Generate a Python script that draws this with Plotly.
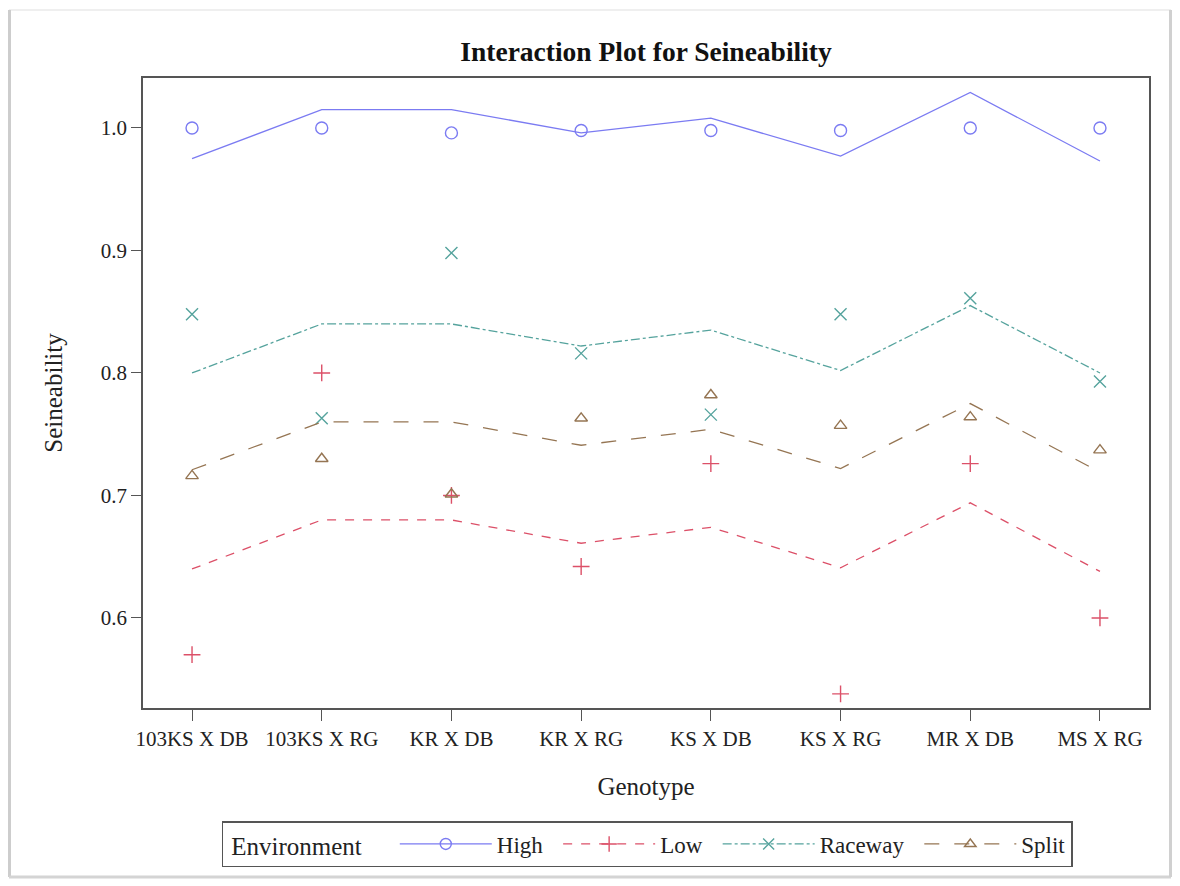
import plotly.graph_objects as go

genotypes = ["103KS X DB", "103KS X RG", "KR X DB", "KR X RG",
             "KS X DB", "KS X RG", "MR X DB", "MS X RG"]

# observed means (markers)
high_obs = [1.000, 1.000, 0.996, 0.998, 0.998, 0.998, 1.000, 1.000]
low_obs = [0.570, 0.800, 0.700, 0.642, 0.726, 0.538, 0.726, 0.600]
raceway_obs = [0.848, 0.763, 0.898, 0.816, 0.766, 0.848, 0.861, 0.793]
split_obs = [0.716, 0.730, 0.701, 0.763, 0.782, 0.757, 0.764, 0.737]

# fitted values (lines)
high_fit = [0.975, 1.015, 1.015, 0.996, 1.008, 0.977, 1.029, 0.973]
low_fit = [0.640, 0.680, 0.680, 0.661, 0.674, 0.641, 0.694, 0.638]
raceway_fit = [0.800, 0.840, 0.840, 0.822, 0.835, 0.802, 0.855, 0.800]
split_fit = [0.721, 0.760, 0.760, 0.741, 0.754, 0.722, 0.775, 0.719]

environments = ["High", "Low", "Raceway", "Split"]

series = [
    (high_fit, high_obs, "#7b7bf2", "solid", "circle-open", 12),
    (low_fit, low_obs, "#dc5068", "dash", "cross-thin-open", 12),
    (raceway_fit, raceway_obs, "#55a39d", "dashdot", "x-thin-open", 12),
    (split_fit, split_obs, "#957553", "longdash", "triangle-up-open", 11),
]

OFF = 7  # page body margin offset
W, H = 1180 - 2 * OFF, 886 - 2 * OFF


def X(x):
    return x - OFF


def Y(y):
    return y - OFF


L, R, T, B = X(142), X(1148), Y(77), Y(707)


def px(x):
    return (X(x) - L) / (R - L)


def py(y):
    return (B - Y(y)) / (B - T)


fig = go.Figure()
for i, (name, (fit, obs, color, dash, sym, size)) in enumerate(zip(environments, series)):
    label = name + ("\u00a0\u2009" if i < len(environments) - 1 else "")
    fig.add_trace(go.Scatter(x=genotypes, y=fit, mode="lines", showlegend=False,
                             line=dict(color=color, width=1.3, dash=dash), hoverinfo="skip"))
    fig.add_trace(go.Scatter(x=genotypes, y=obs, mode="markers", showlegend=False, name=name,
                             marker=dict(symbol=sym, size=size, color=color,
                                         line=dict(color=color, width=1.4))))
    fig.add_trace(go.Scatter(x=[None], y=[None], mode="lines+markers", name=label,
                             line=dict(color=color, width=1.3, dash=dash),
                             marker=dict(symbol=sym, size=size - 1, color=color,
                                         line=dict(color=color, width=1.4))))

serif = "Liberation Serif"
fig.update_layout(
    width=W, height=H,
    margin=dict(l=L, r=W - R, t=T, b=H - B),
    paper_bgcolor="white", plot_bgcolor="white",
    font=dict(family=serif, size=20, color="#222"),
    title=dict(text="<b>Interaction Plot for Seineability</b>", x=px(645), xref="paper",
               y=1 - Y(50) / H, yanchor="middle", font=dict(family=serif, size=27.5, color="#111")),
    xaxis=dict(type="category", range=[-0.378, 7.378], showgrid=False,
               showline=True, linecolor="#555", linewidth=1.5, mirror=True,
               ticks="outside", ticklen=11, tickcolor="#555", tickwidth=1,
               tickfont=dict(family=serif, size=21, color="#222"),
               title=dict(text="Genotype", font=dict(family=serif, size=25, color="#222"), standoff=28)),
    yaxis=dict(range=[0.5265, 1.0408], showgrid=False, zeroline=False,
               showline=True, linecolor="#555", linewidth=1.5, mirror=True,
               ticks="outside", ticklen=10, tickcolor="#555", tickwidth=1,
               tickvals=[0.6, 0.7, 0.8, 0.9, 1.0], ticktext=["0.6", "0.7", "0.8", "0.9", "1.0"],
               tickfont=dict(family=serif, size=21, color="#222"),
               title=dict(text="Seineability", font=dict(family=serif, size=25, color="#222"), standoff=31)),
    legend=dict(orientation="h", x=px(646), xanchor="center", y=py(820), yanchor="top",
                bordercolor="#555", borderwidth=1.5, bgcolor="white",
                font=dict(family=serif, size=23, color="#222"),
                title=dict(text="\u00a0Environment\u00a0\u00a0\u00a0\u00a0",
                           font=dict(family=serif, size=25, color="#222")),
                itemwidth=92, tracegroupgap=0),
    showlegend=True,
)

# outer shadow frame
fig.add_shape(type="line", xref="paper", yref="paper",
              x0=px(8), x1=px(1170), y0=py(9), y1=py(9),
              line=dict(color="#efefef", width=2), layer="below")
fig.add_shape(type="line", xref="paper", yref="paper",
              x0=px(8), x1=px(8), y0=py(9), y1=py(876),
              line=dict(color="#cdcdcd", width=4), layer="below")
fig.add_shape(type="line", xref="paper", yref="paper",
              x0=px(8), x1=px(1170), y0=py(876), y1=py(876),
              line=dict(color="#d4d4d4", width=3), layer="below")
fig.add_shape(type="line", xref="paper", yref="paper",
              x0=px(1170), x1=px(1170), y0=py(9), y1=py(876),
              line=dict(color="#d0d0d0", width=4), layer="below")

fig.write_html("out.html")
